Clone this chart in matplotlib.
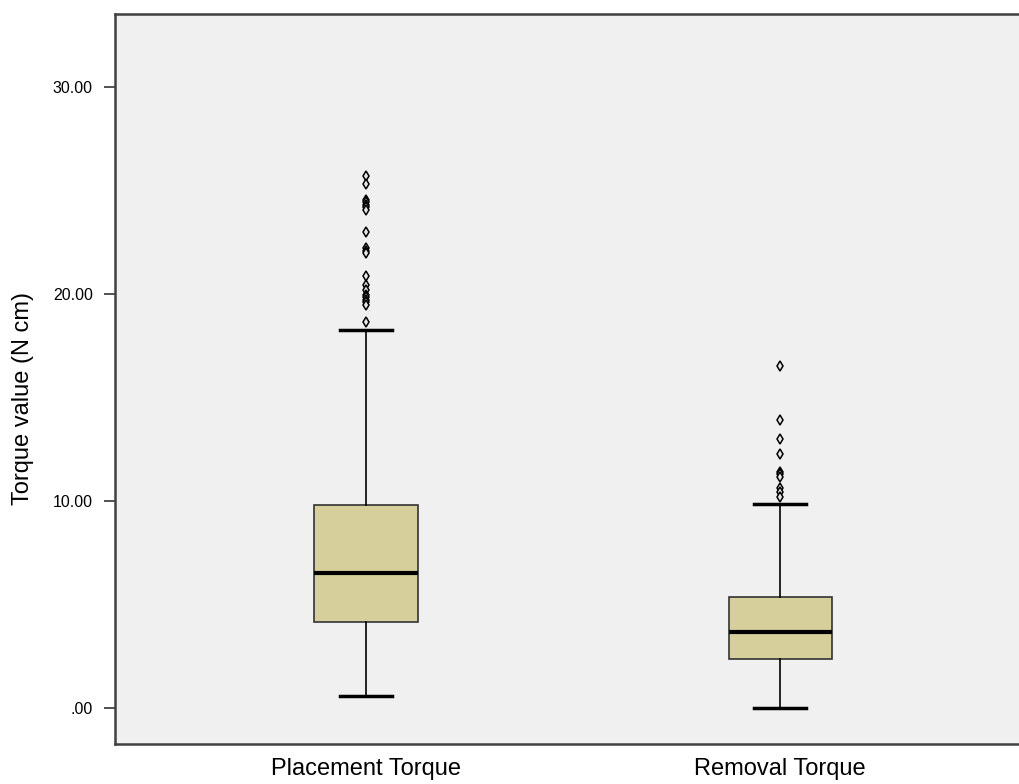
import matplotlib
matplotlib.use("Agg")
import matplotlib.pyplot as plt

plt.rcParams['font.family'] = ['Liberation Sans', 'DejaVu Sans']

# Box statistics
groups = ['Placement Torque', 'Removal Torque']
q1 = [4.15, 2.37]
med = [6.52, 3.67]
q3 = [9.80, 5.36]
wlo = [0.58, 0.0]
whi = [18.26, 9.86]
outliers_place = [25.67, 25.27, 24.54, 24.42, 24.3, 24.18, 24.06, 22.96, 22.2, 22.08, 21.96,
                  20.84, 20.43, 20.19, 19.95, 19.83, 19.71, 19.59, 19.47, 18.65]
outliers_rem = [16.49, 13.91, 12.98, 12.27, 11.41, 11.29, 11.17, 10.63, 10.41, 10.19]
fliers = [outliers_place, outliers_rem]

stats = []
for i, g in enumerate(groups):
    stats.append(dict(label=g, q1=q1[i], med=med[i], q3=q3[i],
                      whislo=wlo[i], whishi=whi[i], fliers=fliers[i]))

fig = plt.figure(figsize=(10.19, 7.84), dpi=100)
ax = fig.add_axes([115 / 1019, 40 / 784, 904 / 1019, 730 / 784])
ax.set_facecolor('#f0f0f0')

ax.bxp(stats, positions=[1, 2], widths=0.249, patch_artist=True,
       boxprops=dict(facecolor='#d6cf9b', edgecolor='#333333', linewidth=1.2),
       medianprops=dict(color='black', linewidth=3),
       whiskerprops=dict(color='black', linewidth=1.2),
       capprops=dict(color='black', linewidth=2.5),
       capwidths=0.125,
       flierprops=dict(marker='d', markersize=5, markerfacecolor='#e8e8e8',
                       markeredgecolor='black', markeredgewidth=1.1))

ax.set_xlim(0.394, 2.577)
ax.set_ylim(-1.74, 33.5)
ax.set_yticks([0, 10, 20, 30])
ax.set_yticklabels(['.00', '10.00', '20.00', '30.00'], fontsize=11.5)
ax.set_xticks([1, 2])
ax.set_xticklabels(groups, fontsize=17)
ax.tick_params(axis='x', length=0, pad=10)
ax.tick_params(axis='y', length=8, width=1.2, color='#333333', pad=8)
ax.set_ylabel('Torque value (N cm)', fontsize=17)
ax.yaxis.set_label_coords(-0.09, 0.473)

for s in ['left', 'top', 'bottom']:
    ax.spines[s].set_color('#404040')
    ax.spines[s].set_linewidth(1.8)
ax.spines['right'].set_visible(False)

fig.savefig('out.png', dpi=100)
